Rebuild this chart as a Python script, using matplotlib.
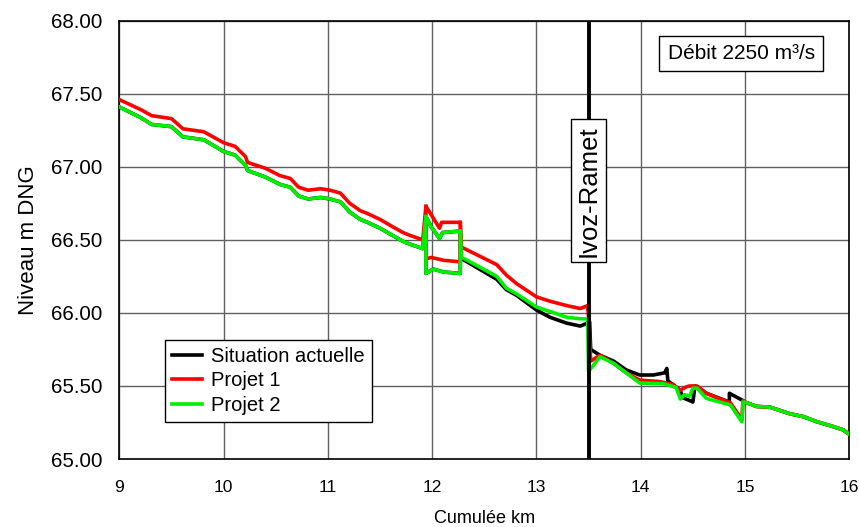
import matplotlib
matplotlib.use("Agg")
import matplotlib.pyplot as plt
import numpy as np

plt.rcParams['font.family'] = ['Liberation Sans', 'DejaVu Sans']

# ---- data ----
common_tail_x = [15.0, 15.11, 15.24, 15.43, 15.56, 15.69, 15.81, 15.94, 16.0]
common_tail_y = [65.39, 65.36, 65.355, 65.31, 65.29, 65.255, 65.23, 65.20, 65.17]

up_x = [9.0, 9.21, 9.31, 9.50, 9.61, 9.81, 10.00, 10.11, 10.21, 10.23, 10.40, 10.54,
        10.64, 10.72, 10.81, 10.93, 11.02, 11.12, 11.21, 11.31, 11.38, 11.50, 11.62,
        11.72, 11.79, 11.91]
p1_up_y = [67.46, 67.39, 67.35, 67.33, 67.26, 67.24, 67.165, 67.14, 67.07, 67.03, 66.99, 66.94,
           66.92, 66.86, 66.84, 66.85, 66.84, 66.82, 66.75, 66.70, 66.68, 66.64, 66.59,
           66.55, 66.53, 66.50]
p2_up_y = [67.41, 67.335, 67.29, 67.275, 67.205, 67.185, 67.105, 67.08, 67.01, 66.975, 66.93, 66.88,
           66.86, 66.80, 66.78, 66.79, 66.78, 66.76, 66.69, 66.64, 66.62, 66.58, 66.53,
           66.49, 66.47, 66.44]

# Projet 1 (downstream of 11.91)
p1_dn_x = [11.94, 12.01, 12.07, 12.09, 12.27, 12.28, 12.31, 12.62, 12.71, 12.81, 13.00,
           13.13, 13.29, 13.42, 13.49, 13.50, 13.52, 13.61, 13.74, 13.86, 13.99, 14.18,
           14.31, 14.38, 14.40, 14.44, 14.47, 14.54, 14.63, 14.73, 14.86, 14.97, 14.98]
p1_dn_y = [66.73, 66.65, 66.58, 66.62, 66.62, 66.45, 66.44, 66.33, 66.26, 66.20, 66.11,
           66.08, 66.05, 66.03, 66.05, 65.97, 65.67, 65.71, 65.655, 65.59, 65.54, 65.53,
           65.51, 65.47, 65.48, 65.495, 65.50, 65.50, 65.45, 65.42, 65.385, 65.27, 65.40]
# second arm (lower branch), joined to the main line at both ends
p1_br_x = [11.94, 11.94, 11.99, 12.11, 12.27, 12.27]
p1_br_y = [66.73, 66.37, 66.38, 66.36, 66.35, 66.62]

# Projet 2
p2_dn_x = [11.94, 11.99, 12.07, 12.10, 12.27, 12.28, 12.31, 12.62, 12.71, 12.81, 13.00,
           13.13, 13.29, 13.42, 13.49, 13.50, 13.61, 13.74, 13.99, 14.22, 14.34, 14.38,
           14.42, 14.47, 14.50, 14.54, 14.63, 14.86, 14.97, 14.98]
p2_dn_y = [66.66, 66.59, 66.51, 66.55, 66.56, 66.38, 66.37, 66.25, 66.17, 66.13, 66.04,
           66.01, 65.97, 65.96, 65.96, 65.60, 65.70, 65.655, 65.52, 65.515, 65.49, 65.41,
           65.44, 65.43, 65.485, 65.485, 65.415, 65.37, 65.255, 65.39]
p2_br_x = [11.94, 11.94, 12.01, 12.11, 12.27, 12.27]
p2_br_y = [66.66, 66.27, 66.30, 66.28, 66.27, 66.56]

# Situation actuelle
sa_dn_x = [11.94, 11.99, 12.07, 12.10, 12.27, 12.28, 12.31, 12.62, 12.71, 12.81, 13.00,
           13.13, 13.29, 13.42, 13.49, 13.51, 13.52, 13.61, 13.74, 13.86, 13.99, 14.12,
           14.23, 14.25, 14.26, 14.31, 14.38, 14.40, 14.47, 14.50, 14.52, 14.63, 14.85,
           14.85, 14.98]
sa_dn_y = [66.66, 66.59, 66.51, 66.55, 66.56, 66.37, 66.36, 66.23, 66.16, 66.12, 66.02,
           65.97, 65.93, 65.91, 65.93, 65.94, 65.75, 65.71, 65.67, 65.61, 65.575, 65.575,
           65.59, 65.62, 65.535, 65.51, 65.47, 65.42, 65.40, 65.39, 65.50, 65.45, 65.39,
           65.45, 65.40]
sa_up_y = p2_up_y
sa_br_x = p2_br_x
sa_br_y = p2_br_y

x_ticks = [9, 10, 11, 12, 13, 14, 15, 16]
y_ticks = [65.0, 65.5, 66.0, 66.5, 67.0, 67.5, 68.0]

# ---- figure ----
fig = plt.figure(figsize=(8.59, 5.27), dpi=100)
ax = fig.add_axes([0.1389, 0.129, 0.8498, 0.8317])
ax.set_xlim(9, 16)
ax.set_ylim(65, 68)
ax.set_xticks(x_ticks)
ax.set_xticklabels([str(t) for t in x_ticks])
ax.set_yticks(y_ticks)
ax.set_yticklabels([f"{t:.2f}" for t in y_ticks])
ax.tick_params(axis='x', length=0, labelsize=12.5, pad=15)
ax.tick_params(axis='y', length=0, labelsize=14.8, pad=12)
ax.grid(True, color='#606060', linewidth=1.0)
ax.set_axisbelow(True)
for s in ax.spines.values():
    s.set_linewidth(1.2)
    s.set_color('black')

def full(up, dnx, dny):
    return list(up_x) + list(dnx) + list(common_tail_x), list(up) + list(dny) + list(common_tail_y)

lw = 2.6
x, y = full(sa_up_y, sa_dn_x, sa_dn_y)
ax.plot(x, y, color='black', lw=lw, label='Situation actuelle', zorder=3)
ax.plot(sa_br_x, sa_br_y, color='black', lw=lw, zorder=3)
x, y = full(p1_up_y, p1_dn_x, p1_dn_y)
ax.plot(x, y, color='#ff0000', lw=lw, label='Projet 1', zorder=4)
ax.plot(p1_br_x, p1_br_y, color='#ff0000', lw=lw, zorder=4)
x, y = full(p2_up_y, p2_dn_x, p2_dn_y)
ax.plot(x, y, color='#00ee00', lw=lw, label='Projet 2', zorder=5)
ax.plot(p2_br_x, p2_br_y, color='#00ee00', lw=lw, zorder=5)

ax.axvline(13.5, color='black', lw=2.8, zorder=6)

ax.text(13.5, 66.835, 'Ivoz-Ramet', rotation=90, ha='center', va='center', fontsize=18.5,
        zorder=7, bbox=dict(boxstyle='square,pad=0.22', fc='white', ec='black', lw=1))
ax.text(14.965, 67.775, 'Débit 2250 m³/s', ha='center', va='center', fontsize=15,
        zorder=7, bbox=dict(boxstyle='square,pad=0.4', fc='white', ec='black', lw=1))

ax.set_xlabel('Cumulée km', fontsize=13, labelpad=11)
ax.set_ylabel('Niveau m DNG', fontsize=16, labelpad=9)

leg = ax.legend(loc='upper left', bbox_to_anchor=(0.062, 0.272), fontsize=14.5,
                frameon=True, fancybox=False, edgecolor='black', framealpha=1,
                handlelength=1.5, handletextpad=0.45, borderpad=0.35, labelspacing=0.28,
                borderaxespad=0)
leg.get_frame().set_linewidth(1.0)
leg.set_zorder(8)

fig.savefig('out.png', dpi=100)
